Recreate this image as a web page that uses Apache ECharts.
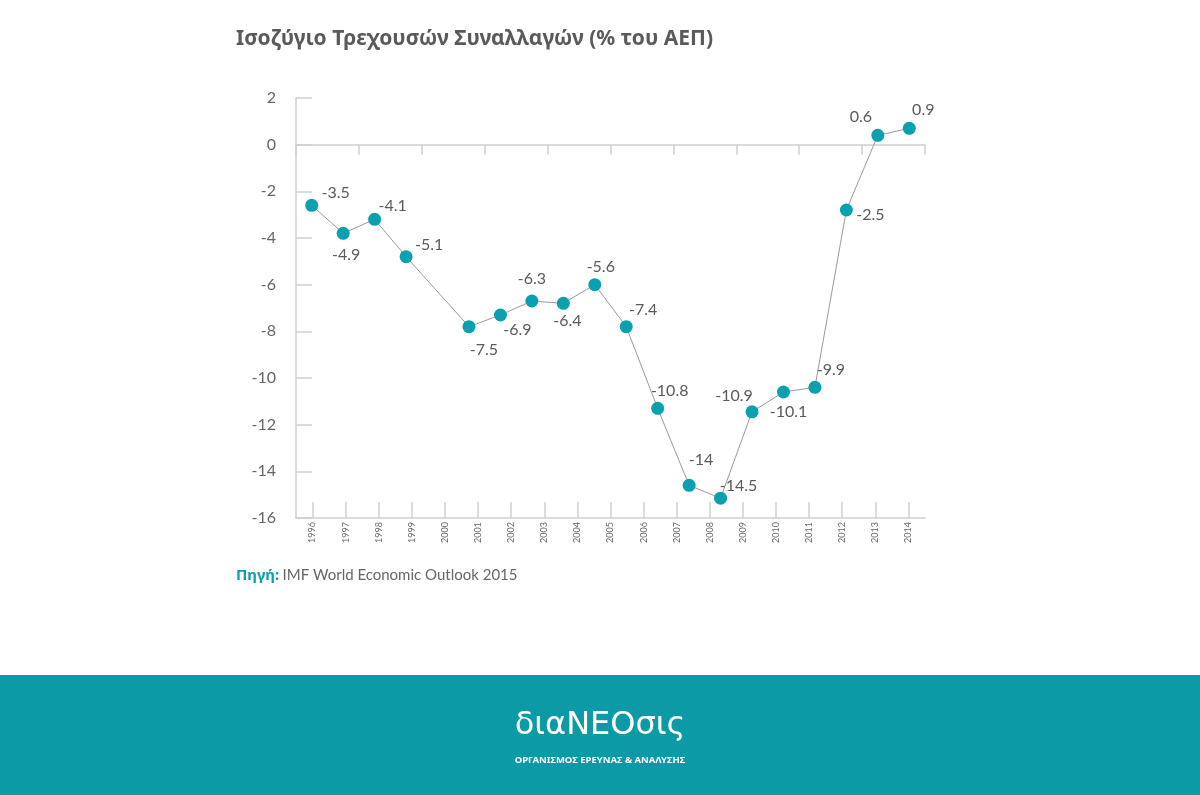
<!DOCTYPE html>
<html>
<head>
<meta charset="utf-8">
<script src="https://cdn.jsdelivr.net/npm/echarts@6/dist/echarts.min.js"></script>
<style>
html,body{margin:0;padding:0;background:#fff;}
#chart{width:1200px;height:795px;}
</style>
</head>
<body>
<div id="chart"></div>
<script>
// ---- data ----
const years = ['1996','1997','1998','1999','2000','2001','2002','2003','2004','2005','2006','2007','2008','2009','2010','2011','2012','2013','2014'];
// values printed as labels
const labelValues = [-3.5, -4.9, -4.1, -5.1, -7.5, -6.9, -6.3, -6.4, -5.6, -7.4, -10.8, -14, -14.5, -10.9, -10.1, -9.9, -2.5, 0.6, 0.9];
// values at which the markers are drawn
const pointValues = [-2.6, -3.8, -3.2, -4.8, -7.8, -7.3, -6.7, -6.8, -6.0, -7.8, -11.3, -14.6, -15.15, -11.45, -10.6, -10.4, -2.8, 0.4, 0.7];
const yTicks = [-16, -14, -12, -10, -8, -6, -4, -2, 0, 2];

const titleText = 'Ισοζύγιο Τρεχουσών Συναλλαγών (% του ΑΕΠ)';
const sourceLabel = 'Πηγή:';
const sourceText = 'IMF World Economic Outlook 2015';
const logoText = 'διαΝΕΟσις';
const logoSub = 'ΟΡΓΑΝΙΣΜΟΣ ΕΡΕΥΝΑΣ & ΑΝΑΛΥΣΗΣ';

// ---- layout helpers ----
// label placement relative to each marker [dx, dy]
const labelOffsets = [[24,-12],[3,22],[18,-13],[23,-12],[15,23],[17,15],[0,-22],[4,18],[6,-18],[17,-17],[12,-17],[12,-25],[18,-12],[-18,-16],[5,20],[16,-17],[24,5],[-17,-18],[14,-18]];
// the reference leaves one extra slot between 1999 and 2000 on the plotting axis
const gapAfter = 3;
const slots = [];
const lineData = [];
years.forEach((y, i) => {
  slots.push(y);
  lineData.push({
    value: pointValues[i],
    label: { formatter: String(labelValues[i]), offset: labelOffsets[i] }
  });
  if (i === gapAfter) { slots.push(''); lineData.push('-'); }
});

const teal = '#0aa0ad';
const grey = '#5a5a5a';
const axisGrey = '#cfcfcf';
const fontLatin = 'Lato, "Open Sans", sans-serif';

const chart = echarts.init(document.getElementById('chart'), null, { renderer: 'canvas' });
chart.setOption({
  animation: false,
  backgroundColor: '#ffffff',
  grid: { left: 296, right: 275, top: 98, bottom: 277, containLabel: false },
  xAxis: [
    {
      type: 'category',
      data: slots,
      position: 'bottom',
      boundaryGap: true,
      axisLine: { onZero: true, lineStyle: { color: axisGrey, width: 1.5 } },
      axisTick: { show: true, length: 10, lineStyle: { color: axisGrey, width: 1.5 } },
      axisLabel: { show: false },
      splitLine: { show: false }
    },
    {
      type: 'category',
      data: years,
      position: 'bottom',
      boundaryGap: true,
      axisLine: { onZero: false, lineStyle: { color: axisGrey, width: 1.5 } },
      axisTick: { show: true, inside: true, alignWithLabel: true, length: 16, lineStyle: { color: axisGrey, width: 1.5 } },
      axisLabel: { rotate: 90, color: '#666', fontSize: 9, fontFamily: fontLatin, margin: 4, interval: 0 },
      splitLine: { show: false }
    }
  ],
  yAxis: {
    type: 'value',
    min: -16, max: 2, interval: 2,
    axisLine: { show: true, lineStyle: { color: axisGrey, width: 1.5 } },
    axisTick: { show: true, inside: true, length: 16, lineStyle: { color: axisGrey, width: 1.5 } },
    axisLabel: { color: '#666', fontSize: 16, fontFamily: fontLatin, margin: 20,
      formatter: v => (yTicks.indexOf(v) >= 0 ? String(v) : '') },
    splitLine: { show: false }
  },
  series: [{
    type: 'line',
    xAxisIndex: 0,
    data: lineData,
    connectNulls: true,
    symbol: 'circle',
    symbolSize: 13,
    lineStyle: { color: '#9a9a9a', width: 1 },
    itemStyle: { color: teal, borderWidth: 0 },
    label: { show: true, position: 'inside', color: grey, fontSize: 16, fontFamily: fontLatin },
    emphasis: { disabled: true },
    z: 5
  }],
  graphic: [
    { type: 'text', left: 236, top: 29,
      style: { text: titleText, fill: grey, font: 'bold 21px "Noto Sans", "Open Sans", sans-serif' } },
    { type: 'text', left: 236, top: 568,
      style: {
        text: '{a|' + sourceLabel + '} {b|' + sourceText + '}',
        rich: {
          a: { fill: teal, fontWeight: 'bold', fontSize: 15, fontFamily: '"Noto Sans", sans-serif' },
          b: { fill: '#666', fontSize: 15, fontFamily: fontLatin }
        }
      } },
    { type: 'rect', left: 0, top: 675, shape: { width: 1200, height: 120 }, style: { fill: '#0b9aa6' } },
    { type: 'text', left: 'center', top: 710,
      style: { text: logoText, fill: '#ffffff', font: '32px "DejaVu Sans", sans-serif' } },
    { type: 'text', left: 'center', top: 755,
      style: { text: logoSub, fill: '#ffffff', font: 'bold 9.5px "Noto Sans", sans-serif' } }
  ]
});
</script>
</body>
</html>
